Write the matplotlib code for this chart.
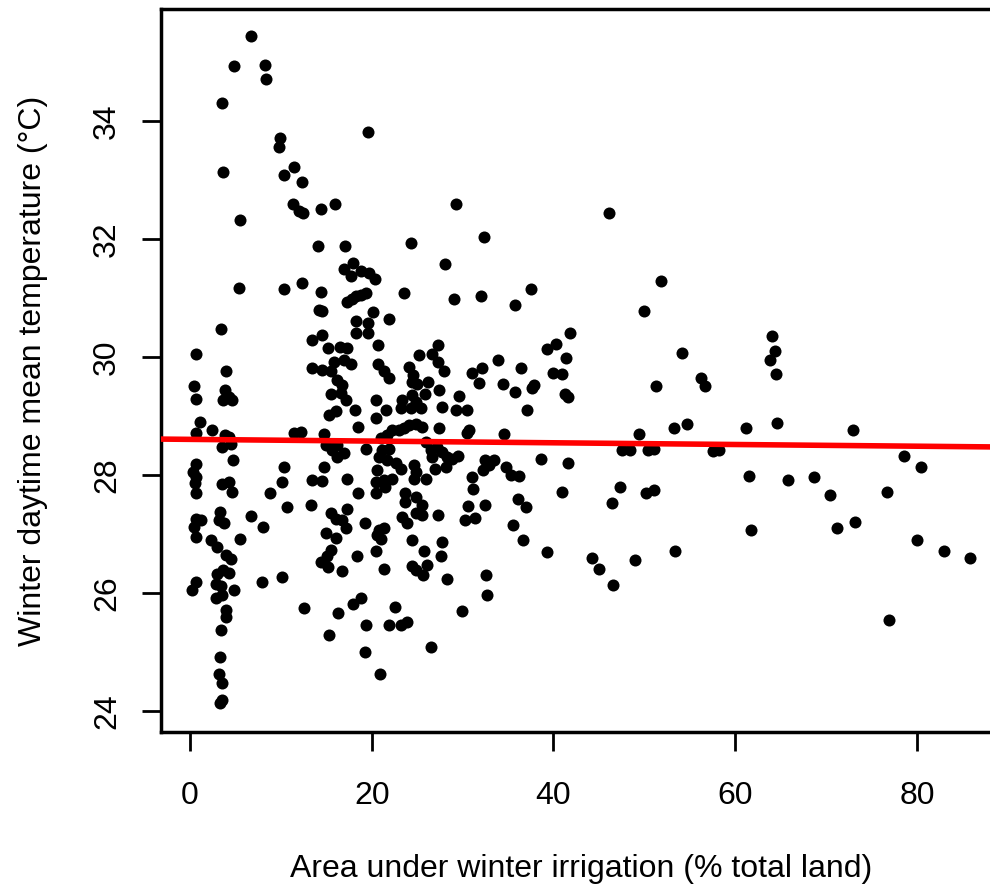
import matplotlib
matplotlib.use("Agg")
import matplotlib.pyplot as plt

# irrigated share of land (%) and winter daytime mean temperature (deg C)
irrigation = [
    6.68, 4.88, 8.21, 8.36, 3.49, 19.55, 9.86, 9.79, 3.63, 11.4, 10.3, 12.29, 11.3, 12.0, 12.4,
    14.45, 15.9, 5.5, 14.05, 17.05, 24.35, 28.1, 17.9, 16.9, 17.7, 18.85, 19.7, 20.4, 5.4, 10.3,
    12.32, 14.38, 14.2, 14.55, 17.3, 17.8, 18.3, 18.78, 19.33, 20.17, 18.23, 19.55, 21.9, 18.3,
    19.6, 14.49, 13.39, 15.2, 16.5, 17.3, 20.7, 23.58, 27.25,
    29.23, 32.31, 29.0, 32.0, 35.75, 37.5, 46.13, 51.8, 50.0, 54.1, 56.2, 41.8, 40.3, 39.3, 41.4,
    40.0, 40.9, 33.9, 36.45, 32.1, 31.05,
    31.8, 34.47, 35.75, 37.6, 37.9, 41.25, 41.6, 51.23, 56.65, 29.6, 29.23, 30.5, 37.1, 30.7, 30.5,
    34.6, 49.36, 53.28, 54.75, 47.56, 48.37, 50.35, 51.05, 57.6, 38.6, 41.6, 32.5, 33.4, 32.2, 32.9,
    29.5, 28.8, 34.73, 35.28, 36.2, 31.06, 31.13, 40.9, 47.37, 46.4, 50.2, 51.05, 36.1, 37.0, 30.6,
    32.45, 30.3, 31.35, 35.57, 36.67, 39.27, 44.2, 45.03, 46.6, 48.96, 53.36, 32.56, 32.67, 29.96,
    58.2, 64.06, 64.43, 63.88, 64.54, 61.24, 64.58, 72.97, 61.5, 65.8, 68.65, 70.45, 76.7, 78.6,
    80.45, 61.75, 71.25, 73.16, 80.05, 82.95, 85.8, 76.93,
    3.45, 0.62, 4.0, 0.44, 0.62, 3.85, 3.63, 4.29, 4.65, 1.07, 0.62, 2.45, 3.85, 4.29, 3.56, 4.48,
    4.73, 0.7, 0.36, 0.7, 0.5, 0.62, 3.49, 4.29, 4.65, 10.34, 10.1, 8.77, 0.62, 1.18, 0.44, 0.7,
    3.27, 3.74, 3.19, 6.68, 8.07, 5.5, 2.31, 3.0, 3.93, 4.48, 3.0, 3.63, 4.29, 2.83, 3.38, 4.84,
    0.62, 0.19, 2.83, 3.49, 3.93, 3.93, 7.95, 10.1, 10.7,
    13.46, 14.55, 15.48, 15.84, 16.94, 17.68, 16.2, 16.76, 15.48, 16.58, 17.13, 18.15, 15.3, 16.1,
    18.5, 20.43, 21.6, 20.5, 20.7, 21.3, 21.9, 25.2, 26.65, 27.25, 27.94, 24.1, 24.5, 24.4, 25.0,
    26.2, 23.36, 24.46, 24.83, 25.38, 24.28, 23.18, 25.85, 27.4, 27.7, 11.44, 12.18, 14.74, 14.93,
    16.2, 15.66, 16.2, 16.94, 19.4, 20.98, 21.7, 22.26, 23.0, 23.54, 24.1, 24.83, 25.56, 21.16,
    21.9, 20.8, 21.7, 22.63, 23.18, 20.6, 21.34, 22.26, 20.43, 24.65, 24.83, 24.65, 25.93, 26.48,
    27.2, 26.65, 27.76, 27.39, 28.3, 28.13, 27.0, 25.93, 17.3, 14.74, 13.46, 14.55,
    18.5, 20.43, 21.5, 23.7, 24.83, 23.7, 25.56, 25.56, 24.83, 27.3, 23.36, 23.9, 13.3, 15.48,
    16.03, 16.76, 17.13, 17.3, 19.25, 14.93, 16.03, 20.8, 21.34, 20.6, 20.98, 15.48, 15.1, 14.38,
    15.2, 16.76, 18.4, 20.5, 21.34, 24.46, 25.8, 24.46, 24.9, 26.1, 25.63, 27.76, 27.65, 28.24,
    12.54, 16.3, 17.93, 18.78, 22.55, 19.4, 21.9, 23.18, 23.9,
    3.27, 3.19, 3.49, 3.27, 3.49, 3.38, 15.3, 19.25, 20.93, 26.55,
]
temperature = [
    35.45, 34.93, 34.95, 34.71, 34.31, 33.82, 33.72, 33.56, 33.14, 33.23, 33.08, 32.97, 32.6, 32.48, 32.45,
    32.51, 32.6, 32.33, 31.89, 31.89, 31.93, 31.58, 31.6, 31.49, 31.37, 31.46, 31.42, 31.33, 31.17, 31.15,
    31.25, 31.1, 30.8, 30.78, 30.94, 30.98, 31.03, 31.05, 31.08, 30.77, 30.62, 30.58, 30.65, 30.41,
    30.4, 30.37, 30.29, 30.15, 30.17, 30.16, 30.2, 31.09, 30.2,
    32.59, 32.04, 30.99, 31.03, 30.89, 31.16, 32.44, 31.29, 30.78, 30.07, 29.65, 30.4, 30.23, 30.14, 29.98,
    29.73, 29.72, 29.95, 29.82, 29.82, 29.73,
    29.56, 29.55, 29.41, 29.47, 29.53, 29.38, 29.33, 29.51, 29.51, 29.34, 29.11, 29.11, 29.11, 28.76, 28.71,
    28.69, 28.69, 28.8, 28.86, 28.42, 28.42, 28.42, 28.45, 28.41, 28.27, 28.2, 28.25, 28.25, 28.08, 28.17,
    28.32, 28.28, 28.13, 28.0, 27.98, 27.97, 27.76, 27.72, 27.8, 27.53, 27.7, 27.75, 27.6, 27.45, 27.48,
    27.49, 27.24, 27.28, 27.15, 26.9, 26.69, 26.59, 26.41, 26.13, 26.56, 26.72, 26.3, 25.97, 25.69,
    28.42, 30.36, 30.1, 29.95, 29.72, 28.79, 28.89, 28.77, 27.99, 27.91, 27.97, 27.67, 27.72, 28.32,
    28.14, 27.07, 27.1, 27.21, 26.9, 26.71, 26.6, 25.54,
    30.47, 30.05, 29.76, 29.51, 29.29, 29.44, 29.28, 29.33, 29.27, 28.9, 28.72, 28.77, 28.68, 28.65, 28.48, 28.53,
    28.25, 28.19, 28.06, 27.97, 27.87, 27.7, 27.85, 27.89, 27.72, 28.14, 27.89, 27.69, 27.25, 27.23, 27.12, 26.95,
    27.38, 27.19, 27.24, 27.31, 27.12, 26.92, 26.9, 26.78, 26.64, 26.57, 26.33, 26.39, 26.34, 26.16, 26.12, 26.05,
    26.19, 26.05, 25.91, 25.97, 25.72, 25.6, 26.19, 26.27, 27.46,
    29.81, 29.78, 29.77, 29.92, 29.95, 29.88, 29.61, 29.53, 29.38, 29.39, 29.27, 29.11, 29.02, 29.09,
    28.82, 29.28, 29.11, 28.97, 29.88, 29.77, 29.64, 30.03, 30.06, 29.92, 29.77, 29.84, 29.69, 29.58, 29.55,
    29.58, 29.27, 29.36, 29.24, 29.13, 29.13, 29.13, 29.38, 29.44, 29.15, 28.71, 28.73, 28.69, 28.51,
    28.51, 28.42, 28.31, 28.37, 28.44, 28.62, 28.68, 28.76, 28.76, 28.79, 28.85, 28.86, 28.82, 28.42,
    28.45, 28.31, 28.25, 28.2, 28.11, 28.08, 27.92, 27.94, 27.89, 28.17, 28.06, 27.94, 28.56, 28.42,
    28.48, 28.31, 28.39, 28.79, 28.31, 28.14, 28.11, 27.94, 27.94, 28.13, 27.92, 27.9,
    27.69, 27.7, 27.8, 27.69, 27.63, 27.55, 27.49, 27.32, 27.35, 27.33, 27.29, 27.18, 27.49, 27.35,
    27.25, 27.24, 27.1, 27.42, 27.19, 27.01, 26.93, 27.07, 27.11, 26.98, 26.91, 26.73, 26.62, 26.53,
    26.44, 26.38, 26.62, 26.71, 26.41, 26.9, 26.72, 26.46, 26.39, 26.47, 26.31, 26.86, 26.62, 26.23,
    25.74, 25.67, 25.82, 25.91, 25.77, 25.46, 25.46, 25.46, 25.51,
    24.92, 24.63, 24.47, 24.14, 24.19, 25.37, 25.29, 25.0, 24.63, 25.08,
]

# fitted line
fit_intercept = 28.605
fit_slope = -0.00145

x_ticks = [0, 20, 40, 60, 80]
y_ticks = [24, 26, 28, 30, 32, 34]

plt.rcParams["font.family"] = ["Liberation Sans", "DejaVu Sans"]

fig = plt.figure(figsize=(9.9, 8.86), dpi=100)
ax = fig.add_axes([0.1626, 0.1738, 0.848, 0.816])

ax.scatter(irrigation, temperature, s=75, color="black", zorder=3, linewidths=0)
ax.axline((0, fit_intercept), slope=fit_slope, color="red", lw=4, zorder=4)

ax.set_xlim(-3.2, 89.2)
ax.set_ylim(23.644, 35.9)
ax.set_xticks(x_ticks)
ax.set_yticks(y_ticks)
ax.set_yticklabels([str(t) for t in y_ticks], rotation=90, va="center")

for s in ax.spines.values():
    s.set_linewidth(2.5)
ax.tick_params(direction="out", length=14, width=2, labelsize=23)
ax.tick_params(axis="x", pad=21)
ax.tick_params(axis="y", pad=14)

ax.set_xlabel("Area under winter irrigation (% total land)", fontsize=23, labelpad=31)
ax.set_ylabel("Winter daytime mean temperature (°C)", fontsize=23, labelpad=32)

fig.savefig("out.png", dpi=100)
